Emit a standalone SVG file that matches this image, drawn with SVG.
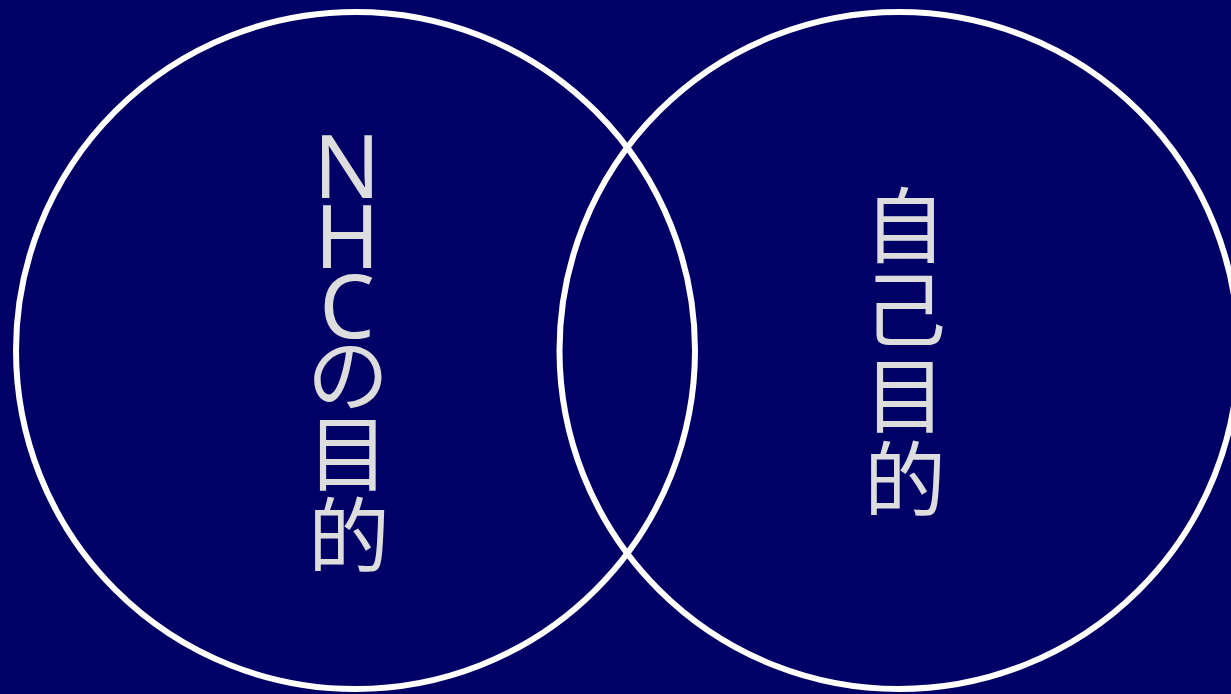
<svg xmlns="http://www.w3.org/2000/svg" width="1231" height="694" viewBox="0 0 1231 694">
<style>
.ring{fill:none;stroke:#ffffff;stroke-width:6}
.lbl{fill:#dddddd;font-family:"Noto Sans CJK JP","Noto Sans",sans-serif;font-size:82px;text-anchor:middle}
.lat{font-family:"Noto Sans","Noto Sans CJK JP",sans-serif;font-size:88px}
</style>
<rect width="1231" height="694" fill="#000066"/>
<g id="connectors"></g>
<g id="left">
<ellipse class="ring" cx="355.5" cy="350.5" rx="339.5" ry="338.5"/>
<text class="lbl"><tspan class="lat" x="347" y="198">N</tspan><tspan class="lat" x="347" y="268">H</tspan><tspan class="lat" x="347" y="338">C</tspan><tspan x="348" y="405">の</tspan><tspan x="348" y="484">目</tspan><tspan x="349" y="566">的</tspan></text>
</g>
<g id="right">
<ellipse class="ring" cx="899" cy="350.5" rx="339.5" ry="338.5"/>
<text class="lbl"><tspan x="905" y="256">自</tspan><tspan x="905" y="340">己</tspan><tspan x="905" y="426">目</tspan><tspan x="905" y="510">的</tspan></text>
</g>
</svg>
